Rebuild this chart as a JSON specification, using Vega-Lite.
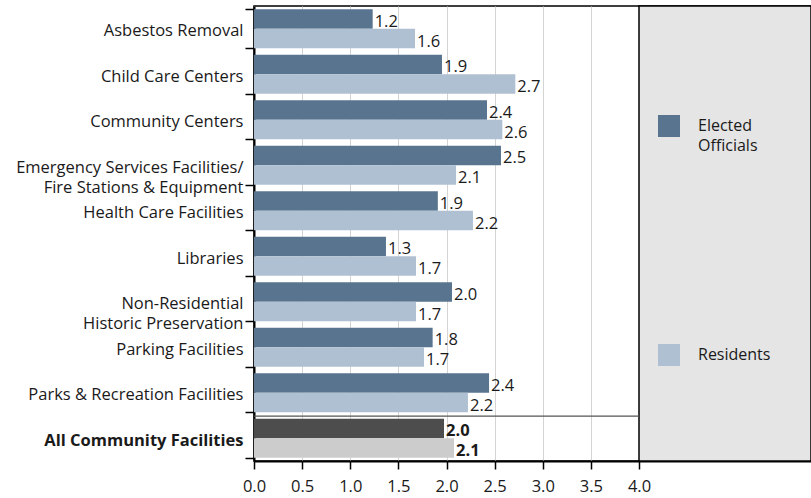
{
  "$schema": "https://vega.github.io/schema/vega-lite/v6.json",
  "width": 557,
  "height": 455,
  "autosize": {"type": "none"},
  "padding": {"left": 254, "top": 6, "right": 0, "bottom": 37},
  "background": "white",
  "config": {
    "font": "Open Sans",
    "view": {"stroke": "black", "strokeWidth": 1.5},
    "axis": {"title": null, "domainColor": "black", "domainWidth": 2, "tickColor": "black", "tickWidth": 1.5, "labelColor": "#1a1a1a", "labelFontSize": 16.5, "labelFont": "Open Sans"}
  },
  "datasets": {
    "bars": [
      {"category": "Asbestos Removal", "group": "Elected Officials", "series": "Elected Officials", "value": 1.233, "label": "1.2"},
      {"category": "Asbestos Removal", "group": "Residents", "series": "Residents", "value": 1.673, "label": "1.6"},
      {"category": "Child Care Centers", "group": "Elected Officials", "series": "Elected Officials", "value": 1.953, "label": "1.9"},
      {"category": "Child Care Centers", "group": "Residents", "series": "Residents", "value": 2.715, "label": "2.7"},
      {"category": "Community Centers", "group": "Elected Officials", "series": "Elected Officials", "value": 2.421, "label": "2.4"},
      {"category": "Community Centers", "group": "Residents", "series": "Residents", "value": 2.58, "label": "2.6"},
      {"category": "Emergency Services Facilities/ Fire Stations & Equipment", "group": "Elected Officials", "series": "Elected Officials", "value": 2.566, "label": "2.5"},
      {"category": "Emergency Services Facilities/ Fire Stations & Equipment", "group": "Residents", "series": "Residents", "value": 2.099, "label": "2.1"},
      {"category": "Health Care Facilities", "group": "Elected Officials", "series": "Elected Officials", "value": 1.91, "label": "1.9"},
      {"category": "Health Care Facilities", "group": "Residents", "series": "Residents", "value": 2.275, "label": "2.2"},
      {"category": "Libraries", "group": "Elected Officials", "series": "Elected Officials", "value": 1.371, "label": "1.3"},
      {"category": "Libraries", "group": "Residents", "series": "Residents", "value": 1.683, "label": "1.7"},
      {"category": "Non-Residential Historic Preservation", "group": "Elected Officials", "series": "Elected Officials", "value": 2.057, "label": "2.0"},
      {"category": "Non-Residential Historic Preservation", "group": "Residents", "series": "Residents", "value": 1.683, "label": "1.7"},
      {"category": "Parking Facilities", "group": "Elected Officials", "series": "Elected Officials", "value": 1.856, "label": "1.8"},
      {"category": "Parking Facilities", "group": "Residents", "series": "Residents", "value": 1.766, "label": "1.7"},
      {"category": "Parks & Recreation Facilities", "group": "Elected Officials", "series": "Elected Officials", "value": 2.442, "label": "2.4"},
      {"category": "Parks & Recreation Facilities", "group": "Residents", "series": "Residents", "value": 2.223, "label": "2.2"},
      {"category": "All Community Facilities", "group": "Elected Officials", "series": "All Elected Officials", "value": 1.974, "label": "2.0"},
      {"category": "All Community Facilities", "group": "Residents", "series": "All Residents", "value": 2.078, "label": "2.1"}
    ],
    "panel": [{"from": 4, "to": 5.787}],
    "separator": [{"category": "All Community Facilities", "from": 0, "to": 4}]
  },
  "layer": [
    {
      "data": {"name": "panel"},
      "mark": {"type": "rect", "fill": "#e5e5e5", "stroke": "black", "strokeWidth": 1.5},
      "encoding": {
        "x": {"field": "from", "type": "quantitative", "scale": {"domain": [0, 5.787], "nice": false, "zero": true},
              "axis": {"values": [0, 0.5, 1, 1.5, 2, 2.5, 3, 3.5, 4], "format": ".1f", "grid": true, "gridColor": "#d4d4d4", "gridWidth": 1, "tickSize": 8, "labelPadding": 9, "labelFlush": false}},
        "x2": {"field": "to"}
      }
    },
    {
      "data": {"name": "bars"},
      "mark": {"type": "bar"},
      "encoding": {
        "y": {"field": "category", "type": "nominal", "sort": null,
              "scale": {"paddingInner": 0.14, "paddingOuter": 0.07},
              "axis": {"tickBand": "extent", "tickSize": 9, "labelPadding": 2, "labelOffset": 2, "labelLineHeight": 20, "labelLimit": 0,
                       "labelFontWeight": {"condition": {"test": "datum.label == 'All Community Facilities'", "value": "bold"}, "value": "normal"},
                       "labelExpr": "datum.label == 'Emergency Services Facilities/ Fire Stations & Equipment' ? ['Emergency Services Facilities/', 'Fire Stations & Equipment'] : datum.label == 'Non-Residential Historic Preservation' ? ['Non-Residential', 'Historic Preservation'] : datum.label"}},
        "yOffset": {"field": "group", "type": "nominal", "sort": ["Elected Officials", "Residents"], "scale": {"paddingInner": 0, "paddingOuter": 0}},
        "x": {"field": "value", "type": "quantitative"},
        "color": {"field": "series", "type": "nominal",
                  "scale": {"domain": ["Elected Officials", "Residents", "All Elected Officials", "All Residents"], "range": ["#58748f", "#b0c0d3", "#4d4d4d", "#cccccc"]},
                  "legend": {"orient": "none", "legendX": 404, "legendY": 109, "values": ["Elected Officials", "Residents"], "title": null,
                             "symbolType": "square", "symbolSize": 484, "symbolStrokeWidth": 0, "symbolOpacity": 1,
                             "labelFontSize": 16, "labelFont": "Open Sans", "labelColor": "#1a1a1a", "labelOffset": 18, "rowPadding": 190, "labelLimit": 0,
                             "encode": {"labels": {"update": {"lineHeight": {"value": 20}}}},
                             "labelExpr": "datum.label == 'Elected Officials' ? ['Elected', 'Officials'] : datum.label"}}
      }
    },
    {
      "data": {"name": "bars"},
      "transform": [{"filter": "datum.category != 'All Community Facilities'"}],
      "mark": {"type": "text", "align": "left", "baseline": "alphabetic", "dx": 2, "dy": 8, "fontSize": 16.5, "color": "#1a1a1a"},
      "encoding": {
        "y": {"field": "category", "type": "nominal", "sort": null},
        "yOffset": {"field": "group", "type": "nominal", "sort": ["Elected Officials", "Residents"]},
        "x": {"field": "value", "type": "quantitative"},
        "text": {"field": "label", "type": "nominal"}
      }
    },
    {
      "data": {"name": "bars"},
      "transform": [{"filter": "datum.category == 'All Community Facilities'"}],
      "mark": {"type": "text", "align": "left", "baseline": "alphabetic", "dx": 2, "dy": 8, "fontSize": 16.5, "fontWeight": "bold", "color": "#1a1a1a"},
      "encoding": {
        "y": {"field": "category", "type": "nominal", "sort": null},
        "yOffset": {"field": "group", "type": "nominal", "sort": ["Elected Officials", "Residents"]},
        "x": {"field": "value", "type": "quantitative"},
        "text": {"field": "label", "type": "nominal"}
      }
    },
    {
      "data": {"name": "separator"},
      "mark": {"type": "rule", "color": "#555555", "strokeWidth": 1.2, "yOffset": -2.5},
      "encoding": {
        "y": {"field": "category", "type": "nominal", "sort": null, "bandPosition": 0},
        "x": {"field": "from", "type": "quantitative"},
        "x2": {"field": "to"}
      }
    }
  ]
}
